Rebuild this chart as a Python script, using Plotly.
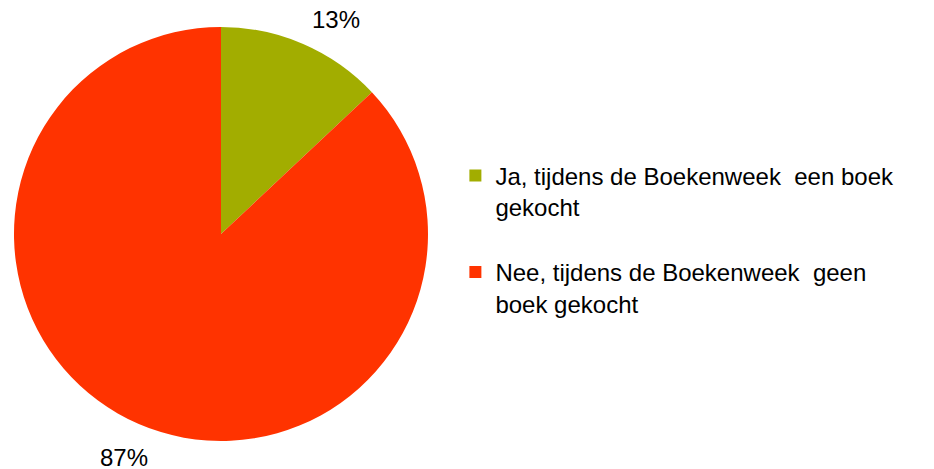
import math

import plotly.graph_objects as go

labels = ["Ja, tijdens de Boekenweek  een boek<br>gekocht<br> ",
          "Nee, tijdens de Boekenweek  geen<br>boek gekocht"]
values = [13, 87]
colors = ["#A2AD00", "#FF3300"]

W, H = 934, 469
# the page body has an 8px margin, so the figure starts at (8, 8) on screen
OFFSET = 8
# pie centre / radius in figure pixels
cx, cy, r = 221 - OFFSET, 234 - OFFSET, 207
label_r = 244
top_limit = 11  # keep label centres at least this far below the top edge

fig = go.Figure(go.Pie(
    labels=labels, values=values, sort=False,
    direction="clockwise", rotation=0,
    marker=dict(colors=colors, line=dict(width=0)),
    textinfo="none", hoverinfo="label+percent",
    showlegend=True,
    domain=dict(x=[(cx - r) / W, (cx + r) / W],
                y=[1 - (cy + r) / H, 1 - (cy - r) / H]),
))

# percentage labels outside the pie, at the middle angle of each slice;
# a label that would leave the top of the chart slides along the circle
total = sum(values)
start = 0.0
for v in values:
    mid = (start + v / 2) / total * 2 * math.pi
    start += v
    lx = cx + math.sin(mid) * label_r
    ly = cy - math.cos(mid) * label_r
    if ly < top_limit:
        ly = top_limit
        dx = math.sqrt(max(label_r ** 2 - (ly - cy) ** 2, 0))
        lx = cx + math.copysign(dx, math.sin(mid))
    fig.add_annotation(x=lx / W, y=1 - ly / H, xref="paper", yref="paper",
                       text=f"{round(v / total * 100)}%", showarrow=False,
                       xanchor="center", yanchor="middle",
                       font=dict(size=24, color="#000000"))

fig.update_layout(
    width=W, height=H,
    margin=dict(l=0, r=0, t=0, b=0),
    paper_bgcolor="white", plot_bgcolor="white",
    font=dict(family="Liberation Sans, Arial", size=24, color="#000000"),
    legend=dict(x=0.479, y=0.69, xanchor="left", yanchor="top",
                valign="top", itemwidth=30,
                font=dict(size=24)),
)

fig.write_html("out.html")
